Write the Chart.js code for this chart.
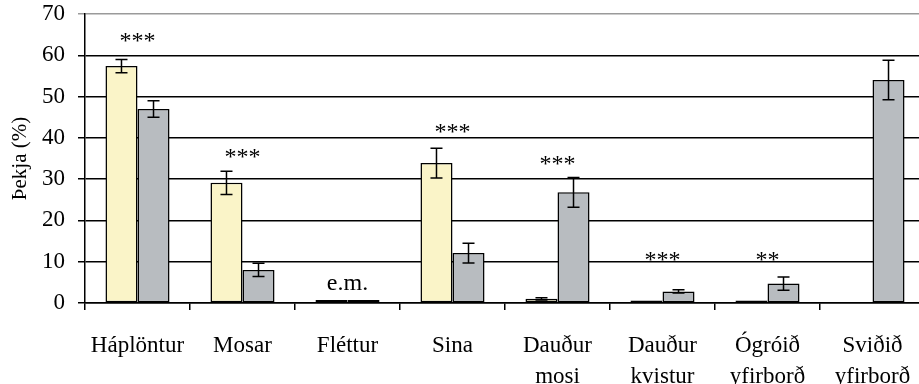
<html>
<head>
<script src="https://cdn.jsdelivr.net/npm/chart.js"></script>
<style>
    body { margin: 0; overflow: hidden; background: #fff; }
    #wrap { width: 940px; height: 384px; }
</style>
</head>
<body>
<div id="wrap"><canvas id="chart" width="940" height="384"></canvas></div>
<script>
    // categories and values
    const categories = [
        'Háplöntur', 'Mosar', 'Fléttur', 'Sina',
        ['Dauður', 'mosi'], ['Dauður', 'kvistur'], ['Ógróið', 'yfirborð'], ['Sviðið', 'yfirborð']
    ];
    const seriesA = [57.4, 29.1, 0.7, 33.9, 1.0, 0.6, 0.6, null];
    const seriesB = [47.0, 8.0, 0.7, 12.1, 26.8, 2.8, 4.7, 54.0];
    const errA = [1.6, 2.8, null, 3.6, 0.3, null, null, null];
    const errB = [2.0, 1.6, null, 2.4, 3.6, 0.4, 1.6, 4.8];
    const sigLabels = ['***', '***', 'e.m.', '***', '***', '***', '**', ''];
    const sigLevel = [61.7, 33.7, 3.1, 39.7, 32.0, 8.7, 8.7, null];
    const yTicks = [0, 10, 20, 30, 40, 50, 60, 70];

    const serif = '"Liberation Serif", "DejaVu Serif", serif';

    const errorBars = {
        id: 'errorBars',
        afterDatasetsDraw(chart) {
            const ctx = chart.ctx;
            const y = chart.scales.y;
            const errs = [errA, errB];
            const vals = [seriesA, seriesB];
            ctx.save();
            ctx.strokeStyle = '#000';
            ctx.lineWidth = 1.5;
            errs.forEach((err, i) => {
                const meta = chart.getDatasetMeta(i);
                meta.data.forEach((bar, j) => {
                    if (err[j] == null || vals[i][j] == null) return;
                    const top = y.getPixelForValue(vals[i][j] + err[j]);
                    const bot = y.getPixelForValue(vals[i][j] - err[j]);
                    ctx.beginPath();
                    ctx.moveTo(bar.x, top); ctx.lineTo(bar.x, bot);
                    ctx.moveTo(bar.x - 6, top); ctx.lineTo(bar.x + 6, top);
                    ctx.moveTo(bar.x - 6, bot); ctx.lineTo(bar.x + 6, bot);
                    ctx.stroke();
                });
            });
            ctx.restore();
        }
    };

    const sigMarks = {
        id: 'sigMarks',
        afterDatasetsDraw(chart) {
            const ctx = chart.ctx;
            const x = chart.scales.x, y = chart.scales.y;
            ctx.save();
            ctx.fillStyle = '#000';
            ctx.font = '24px ' + serif;
            ctx.textAlign = 'center';
            ctx.textBaseline = 'alphabetic';
            sigLabels.forEach((t, j) => {
                if (!t) return;
                ctx.fillText(t, x.getPixelForValue(j), y.getPixelForValue(sigLevel[j]));
            });
            ctx.restore();
        }
    };

    new Chart(document.getElementById('chart'), {
        type: 'bar',
        data: {
            labels: categories,
            datasets: [{
                data: seriesA,
                backgroundColor: 'rgb(250, 244, 200)',
                borderColor: '#000',
                borderWidth: 1.5,
                borderSkipped: false,
                categoryPercentage: 0.61,
                barPercentage: 1.0
            }, {
                data: seriesB,
                backgroundColor: 'rgb(184, 188, 192)',
                borderColor: '#000',
                borderWidth: 1.5,
                borderSkipped: false,
                categoryPercentage: 0.61,
                barPercentage: 1.0
            }]
        },
        options: {
            responsive: false,
            animation: false,
            layout: { padding: { top: 14, right: 15, left: 0, bottom: 0 } },
            plugins: { legend: { display: false }, tooltip: { enabled: false } },
            scales: {
                x: {
                    grid: { drawOnChartArea: false, drawTicks: true, tickLength: 7, color: '#000', lineWidth: 1.5 },
                    border: { color: '#000', width: 1.5 },
                    ticks: {
                        color: '#000', padding: 20, maxRotation: 0, autoSkip: false,
                        font: { family: serif, size: 23, lineHeight: 1.35 }
                    },
                    afterFit(scale) { scale.height = 81; }
                },
                y: {
                    min: 0, max: 70,
                    afterBuildTicks(scale) { scale.ticks = yTicks.map(v => ({ value: v })); },
                    grid: {
                        color: ctx => ctx.tick && ctx.tick.value === 70 ? '#9a9a9a' : '#000',
                        lineWidth: 1.5, tickLength: 7
                    },
                    border: { color: '#000', width: 1.5 },
                    ticks: { color: '#000', padding: 13, font: { family: serif, size: 23 } },
                    title: {
                        display: true, text: 'Þekja (%)', color: '#000',
                        font: { family: serif, size: 21 }, padding: { top: 8, bottom: 0 }
                    },
                    afterFit(scale) {
                        scale.width = 85;
                        scale.paddingTop = 0;
                        scale.paddingBottom = 0;
                    }
                }
            }
        },
        plugins: [errorBars, sigMarks]
    });
</script>
</body>
</html>
